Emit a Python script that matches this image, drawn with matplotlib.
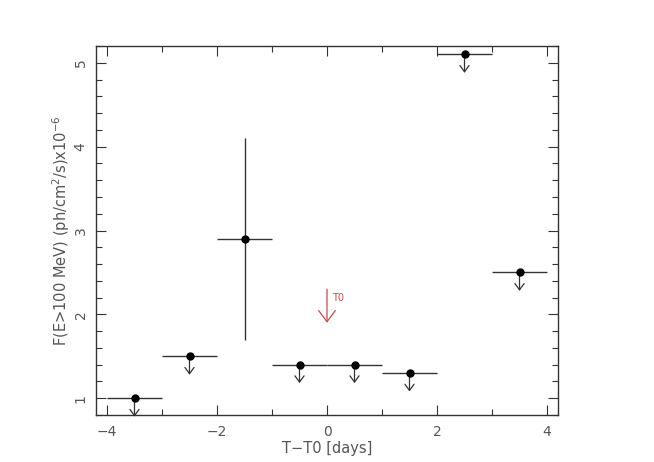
import matplotlib
matplotlib.use("Agg")
import matplotlib.pyplot as plt
from matplotlib.ticker import MultipleLocator

# data
t_center = [-3.5, -2.5, -1.5, -0.5, 0.5, 1.5, 2.5, 3.5]
t_halfwidth = [0.5, 0.5, 0.5, 0.5, 0.5, 0.5, 0.5, 0.5]
flux = [1.0, 1.5, 2.9, 1.4, 1.4, 1.3, 5.1, 2.5]
flux_err = [0.0, 0.0, 1.2, 0.0, 0.0, 0.0, 0.0, 0.0]
is_upper_limit = [True, True, False, True, True, True, True, True]
ul_arrow_len = 0.22
t0_arrow = (0.0, 2.3, 1.9)  # x, y_start, y_end
t0_label = "T0"

txt_color = "#555555"
line_color = "#333333"
red = "#d04848"

fig = plt.figure(figsize=(6.54, 4.62), dpi=100)
ax = fig.add_axes([96/654, 47/462, (558-96)/654, (415-46)/462])

for x, xe, y, ye, ul in zip(t_center, t_halfwidth, flux, flux_err, is_upper_limit):
    ax.errorbar([x], [y], xerr=[xe], yerr=[ye] if ye > 0 else None,
                fmt='o', ms=5, color='black', ecolor=line_color, elinewidth=1.0,
                capsize=0, zorder=3)
    if ul:
        ax.annotate('', xy=(x, y - ul_arrow_len), xytext=(x, y),
                    annotation_clip=False,
                    arrowprops=dict(arrowstyle='->,head_length=0.45,head_width=0.33',
                                    lw=0.9, color=line_color, shrinkA=0, shrinkB=0),
                    zorder=2)

ax.annotate('', xy=(t0_arrow[0], t0_arrow[2]), xytext=(t0_arrow[0], t0_arrow[1]),
            arrowprops=dict(arrowstyle='->,head_length=0.8,head_width=0.6',
                            lw=0.9, color=red, shrinkA=0, shrinkB=0))
ax.text(t0_arrow[0] + 0.1, 2.2, t0_label, color=red, fontsize=7,
        ha='left', va='center')

ax.set_xlim(-4.2, 4.2)
ax.set_ylim(0.8, 5.2)
ax.xaxis.set_major_locator(MultipleLocator(2))
ax.xaxis.set_minor_locator(MultipleLocator(1))
ax.yaxis.set_major_locator(MultipleLocator(1))
ax.yaxis.set_minor_locator(MultipleLocator(0.2))
ax.tick_params(which='both', direction='in', top=True, right=True,
               color=line_color, labelcolor=txt_color, labelsize=10)
ax.tick_params(which='major', length=7, width=0.8, pad=7)
ax.tick_params(which='minor', length=4, width=0.8)
ax.tick_params(axis='y', labelrotation=90, pad=6)
for t in ax.yaxis.get_major_ticks():
    t.label1.set_va('center')
for s in ax.spines.values():
    s.set_color(line_color)
    s.set_linewidth(1.0)

ax.set_xlabel('T\u2212T0 [days]', color=txt_color, fontsize=10.5, labelpad=2)
ax.set_ylabel('F(E>100 MeV) (ph/cm$^2$/s)x10$^{-6}$', color=txt_color,
              fontsize=10.5, labelpad=1)

fig.savefig('out.png', dpi=100)
